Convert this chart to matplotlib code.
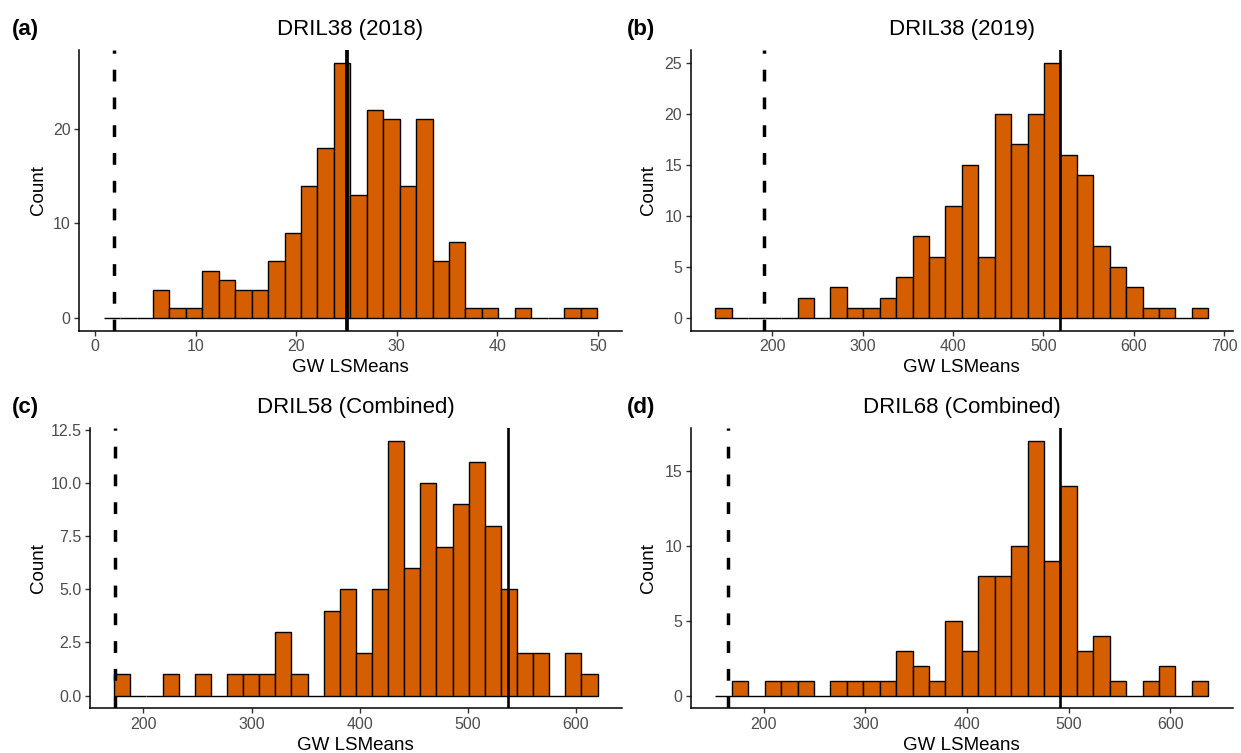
import numpy as np
import matplotlib
matplotlib.use("Agg")
import matplotlib.pyplot as plt

plt.rcParams['font.family'] = ['Liberation Sans', 'DejaVu Sans']
plt.rcParams['lines.scale_dashes'] = False

W, H = 1241, 753

# histogram data (30 bins per panel)
titles = ["DRIL38 (2018)", "DRIL38 (2019)", "DRIL58 (Combined)", "DRIL68 (Combined)"]
tags = ["(a)", "(b)", "(c)", "(d)"]

counts_a = [0, 0, 0, 3, 1, 1, 5, 4, 3, 3, 6, 9, 14, 18, 27, 13, 22, 21, 14, 21,
            6, 8, 1, 1, 0, 1, 0, 0, 1, 1]
counts_b = [1, 0, 0, 0, 0, 2, 0, 3, 1, 1, 2, 4, 8, 6, 11, 15, 6, 20, 17, 20,
            25, 16, 14, 7, 5, 3, 1, 1, 0, 1]
counts_c = [1, 0, 0, 1, 0, 1, 0, 1, 1, 1, 3, 1, 0, 4, 5, 2, 5, 12, 6, 10,
            7, 9, 11, 8, 5, 2, 2, 0, 2, 1]
counts_d = [0, 1, 0, 1, 1, 1, 0, 1, 1, 1, 1, 3, 2, 1, 5, 3, 8, 8, 10, 17,
            9, 14, 3, 4, 1, 0, 1, 2, 0, 1]

# bin range (lo, hi) of each histogram
range_a = (0.87, 49.9)
range_b = (136.9, 682.6)
range_c = (173.0, 619.9)
range_d = (152.5, 637.5)

# dashed and solid reference lines
dashed_x = [1.91, 190.3, 174.1, 164.5]
solid_x = [25.07, 518.1, 537.0, 491.6]

xticks = [[0, 10, 20, 30, 40, 50], [200, 300, 400, 500, 600, 700],
          [200, 300, 400, 500, 600], [200, 300, 400, 500, 600]]
yticks = [[0, 10, 20], [0, 5, 10, 15, 20, 25],
          [0, 2.5, 5, 7.5, 10, 12.5], [0, 5, 10, 15]]
ytick_labels = [["0", "10", "20"], ["0", "5", "10", "15", "20", "25"],
                ["0.0", "2.5", "5.0", "7.5", "10.0", "12.5"], ["0", "5", "10", "15"]]

all_counts = [counts_a, counts_b, counts_c, counts_d]
all_ranges = [range_a, range_b, range_c, range_d]

# axes boxes in pixels: left, top, right, bottom
boxes = [(79, 50, 621.7, 330.7), (690.7, 50, 1233, 330.7),
         (90, 428, 621.7, 708.3), (690.7, 428, 1233, 708.3)]
solid_w = [2.7, 1.9, 1.9, 1.9]

fig = plt.figure(figsize=(W / 100, H / 100), dpi=100)

def fx(px):
    return px / W

def fy(py):
    return 1 - py / H

for i in range(4):
    l, t, r, b = boxes[i]
    ax = fig.add_axes([fx(l), fy(b), fx(r - l), (b - t) / H])
    counts = np.array(all_counts[i])
    edges = np.linspace(all_ranges[i][0], all_ranges[i][1], len(counts) + 1)
    ax.bar(edges[:-1], counts, width=np.diff(edges), align='edge',
           color='#D55E00', edgecolor='black', linewidth=1.0, zorder=2)
    ax.axvline(dashed_x[i], color='black', lw=2.5, dashes=(8.5, 11.5), zorder=3)
    ax.axvline(solid_x[i], color='black', lw=solid_w[i], zorder=3)

    lo = min(edges[0], dashed_x[i], solid_x[i])
    hi = max(edges[-1], dashed_x[i], solid_x[i])
    pad = 0.05 * (hi - lo)
    ax.set_xlim(lo - pad, hi + pad)
    ymax = counts.max()
    ax.set_ylim(-0.05 * ymax, 1.05 * ymax)

    ax.set_xticks(xticks[i])
    ax.set_yticks(yticks[i])
    ax.set_yticklabels(ytick_labels[i])
    for s in ['top', 'right']:
        ax.spines[s].set_visible(False)
    for s in ['left', 'bottom']:
        ax.spines[s].set_linewidth(1.1)
    ax.tick_params(length=3.5, width=1.0, color='#333333', labelsize=11.5,
                   labelcolor='#4D4D4D', pad=2.5)

    cx = (l + r) / 2
    fig.text(fx(cx), fy(t - 20), titles[i], ha='center', va='center', fontsize=16)
    fig.text(fx(cx), fy(b + 37), "GW LSMeans", ha='center', va='center', fontsize=13.5)
    ylab_x = 39 if l < 600 else 648
    fig.text(fx(ylab_x), fy((t + b) / 2), "Count", ha='center', va='center',
             rotation=90, fontsize=13.5)
    tag_x = 12 if l < 600 else 627
    fig.text(fx(tag_x), fy(t - 20), tags[i], ha='left', va='center',
             fontsize=16, fontweight='bold')

fig.savefig("out.png", dpi=100)
